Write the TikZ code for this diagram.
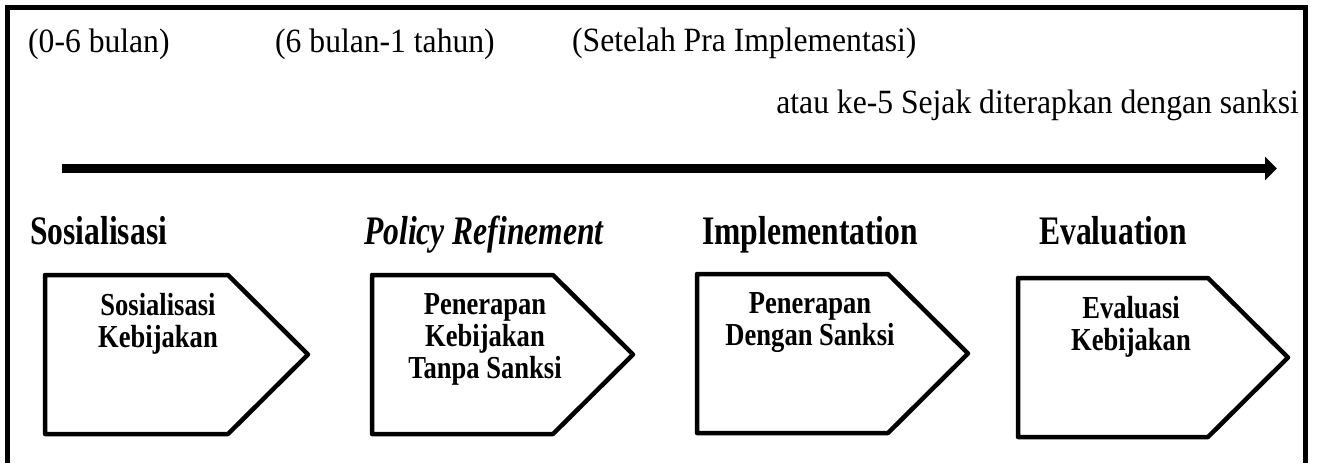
\documentclass[tikz,border=0pt]{standalone}
\usepackage{fontspec}
\setmainfont{Liberation Serif}[FakeStretch=0.93]
\newfontfamily\stagefont{Liberation Serif}[FakeStretch=0.78]
\newfontfamily\boxfont{Liberation Serif}[FakeStretch=0.83]
\usetikzlibrary{arrows.meta}
\begin{document}
\begin{tikzpicture}[x=1pt,y=-1pt,
        frame/.style={line width=5pt},
        phase/.style={line width=4.5pt, line join=round},
        period/.style={inner sep=0pt, font=\fontsize{34}{40}\selectfont},
        stage/.style={anchor=base west, inner sep=0pt, font=\stagefont\fontsize{40.5}{46}\selectfont\bfseries},
        inside/.style={anchor=north, inner sep=0pt, align=center, font=\boxfont\fontsize{32}{32}\selectfont\bfseries}]
        \useasboundingbox (0,0) rectangle (1319,463);
        \node[period, anchor=base west] (p1) at (28,52) {(0-6 bulan)};
        \node[period, anchor=base west] (p2) at (275,52) {(6 bulan-1 tahun)};
        \node[period, anchor=base west] (p3) at (572,51) {(Setelah Pra Implementasi)};
        \node[period, anchor=base east] (p4) at (1299,113) {atau ke-5 Sejak diterapkan dengan sanksi};
        \coordinate (t0) at (62,168.5);
        \coordinate (t1) at (1277,168.5);
        \draw[line width=9pt, -{Triangle[length=12pt,width=23pt]}] (t0) -- (t1);
        \node[stage] (s1) at (30,244) {Sosialisasi};
        \node[stage] (s2) at (364,244) {\itshape Policy Refinement};
        \node[stage] (s3) at (702,244) {Implementation};
        \node[stage] (s4) at (1039,244) {Evaluation};
        \foreach \l/\t/\w/\n/\txt in {45/275/183/sos/{Sosialisasi\\Kebijakan},
            372/275/181/ref/{Penerapan\\Kebijakan\\Tanpa Sanksi},
            697/274/191/imp/{Penerapan\\Dengan Sanksi},
            1018/278/190/eva/{Evaluasi\\Kebijakan}}
        {
            \draw[phase] (\l,\t) -- ++(\w,0) -- ++(80,79.5) -- ++(-80,79.5) -- ++(-\w,0) -- cycle;
            \node[inside] (\n) at (\l+113,\t+18) {\txt};
        }
        \draw[frame] (7.5,463) -- (7.5,7) -- (1305.5,7) -- (1305.5,463);
    \end{tikzpicture}
\end{document}
